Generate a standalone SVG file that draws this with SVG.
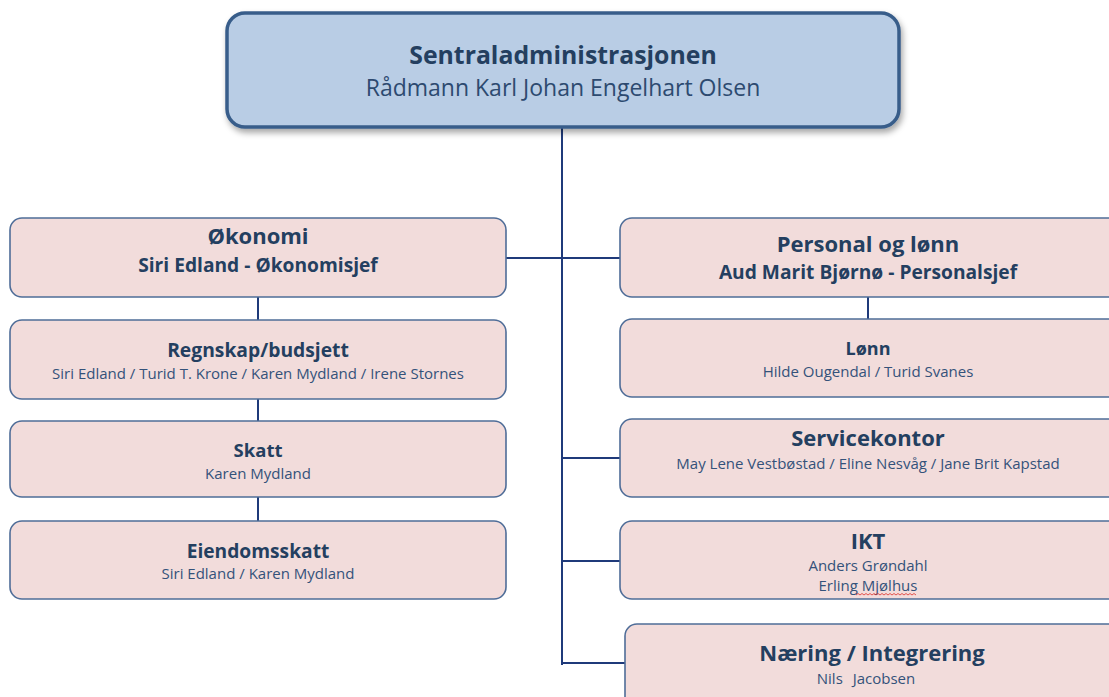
<svg xmlns="http://www.w3.org/2000/svg" width="1109" height="697" viewBox="0 0 1109 697">
<defs>
<filter id="sh" x="-10%" y="-10%" width="120%" height="140%">
<feDropShadow dx="2" dy="4" stdDeviation="3" flood-color="#000" flood-opacity="0.35"/>
</filter>
<style>
.box{fill:#f2dcdb;stroke:#4f6d98;stroke-width:1.6}
.top{fill:#b9cde5;stroke:#385d8a;stroke-width:3.5}
.ln{stroke:#1f3a7a;stroke-width:2;fill:none}
text{font-family:"Open Sans","Noto Sans",sans-serif;fill:#243f60;text-anchor:middle}
.h1{font-size:22px;font-weight:bold}
.h2{font-size:19.2px;font-weight:bold}
.h3{font-size:18.5px;font-weight:bold}
.s{font-size:15px;fill:#34527a}
.sub{font-size:23px;fill:#2d4a70}
</style>
</defs>
<g id="connectors">
<line class="ln" x1="562" y1="127" x2="562" y2="665"/>
<line class="ln" x1="506" y1="258" x2="620" y2="258"/>
<line class="ln" x1="258" y1="297" x2="258" y2="320"/>
<line class="ln" x1="258" y1="399" x2="258" y2="421"/>
<line class="ln" x1="258" y1="497" x2="258" y2="521"/>
<line class="ln" x1="868" y1="297" x2="868" y2="319"/>
<line class="ln" x1="562" y1="458" x2="620" y2="458"/>
<line class="ln" x1="562" y1="561" x2="620" y2="561"/>
<line class="ln" x1="562" y1="663" x2="625" y2="663"/>
</g>
<g id="sentral">
<rect class="top" x="227" y="13" width="672" height="114" rx="18" filter="url(#sh)"/>
<text class="h1" x="563" y="64" style="font-size:24.8px">Sentraladministrasjonen</text>
<text class="sub" x="563" y="96">Rådmann Karl Johan Engelhart Olsen</text>
</g>
<g id="okonomi">
<rect class="box" x="10" y="218" width="496" height="79" rx="12"/>
<text class="h1" x="258" y="244">Økonomi</text>
<text class="h2" x="258" y="272">Siri Edland - Økonomisjef</text>
</g>
<g id="regnskap">
<rect class="box" x="10" y="320" width="496" height="79" rx="12"/>
<text class="h3" x="258" y="357" style="font-size:19.3px">Regnskap/budsjett</text>
<text class="s" x="258" y="379">Siri Edland / Turid T. Krone / Karen Mydland / Irene Stornes</text>
</g>
<g id="skatt">
<rect class="box" x="10" y="421" width="496" height="76" rx="12"/>
<text class="h3" x="258" y="457">Skatt</text>
<text class="s" x="258" y="479">Karen Mydland</text>
</g>
<g id="eiendomsskatt">
<rect class="box" x="10" y="521" width="496" height="78" rx="12"/>
<text class="h3" x="258" y="558" style="font-size:19.2px">Eiendomsskatt</text>
<text class="s" x="258" y="579">Siri Edland / Karen Mydland</text>
</g>
<g id="personal">
<rect class="box" x="620" y="218" width="500" height="79" rx="12"/>
<text class="h1" x="868" y="252">Personal og lønn</text>
<text class="h2" x="868" y="279">Aud Marit Bjørnø - Personalsjef</text>
</g>
<g id="lonn">
<rect class="box" x="620" y="319" width="500" height="78" rx="12"/>
<text class="h3" x="868" y="355" style="font-size:18px">Lønn</text>
<text class="s" x="868" y="377">Hilde Ougendal / Turid Svanes</text>
</g>
<g id="servicekontor">
<rect class="box" x="620" y="419" width="500" height="78" rx="12"/>
<text class="h1" x="868" y="446">Servicekontor</text>
<text class="s" x="868" y="469">May Lene Vestbøstad / Eline Nesvåg / Jane Brit Kapstad</text>
</g>
<g id="ikt">
<rect class="box" x="620" y="521" width="500" height="78" rx="12"/>
<text class="h1" x="868" y="549">IKT</text>
<text class="s" x="868" y="571">Anders Grøndahl</text>
<text class="s" x="868" y="591">Erling Mjølhus</text>
<path d="M856 595 l2 -1.5 l2 1.5 l2 -1.5 l2 1.5 l2 -1.5 l2 1.5 l2 -1.5 l2 1.5 l2 -1.5 l2 1.5 l2 -1.5 l2 1.5 l2 -1.5 l2 1.5 l2 -1.5 l2 1.5 l2 -1.5 l2 1.5 l2 -1.5 l2 1.5 l2 -1.5 l2 1.5 l2 -1.5 l2 1.5 l2 -1.5 l2 1.5 l2 -1.5 l2 1.5 l2 -1.5 l2 1.5" fill="none" stroke="#e0302a" stroke-width="0.8"/>
</g>
<g id="naering">
<rect class="box" x="625" y="624" width="500" height="90" rx="12"/>
<text class="h1" x="872" y="661">Næring / Integrering</text>
<text class="s" x="866" y="684" style="word-spacing:6px">Nils Jacobsen</text>
</g>
</svg>
